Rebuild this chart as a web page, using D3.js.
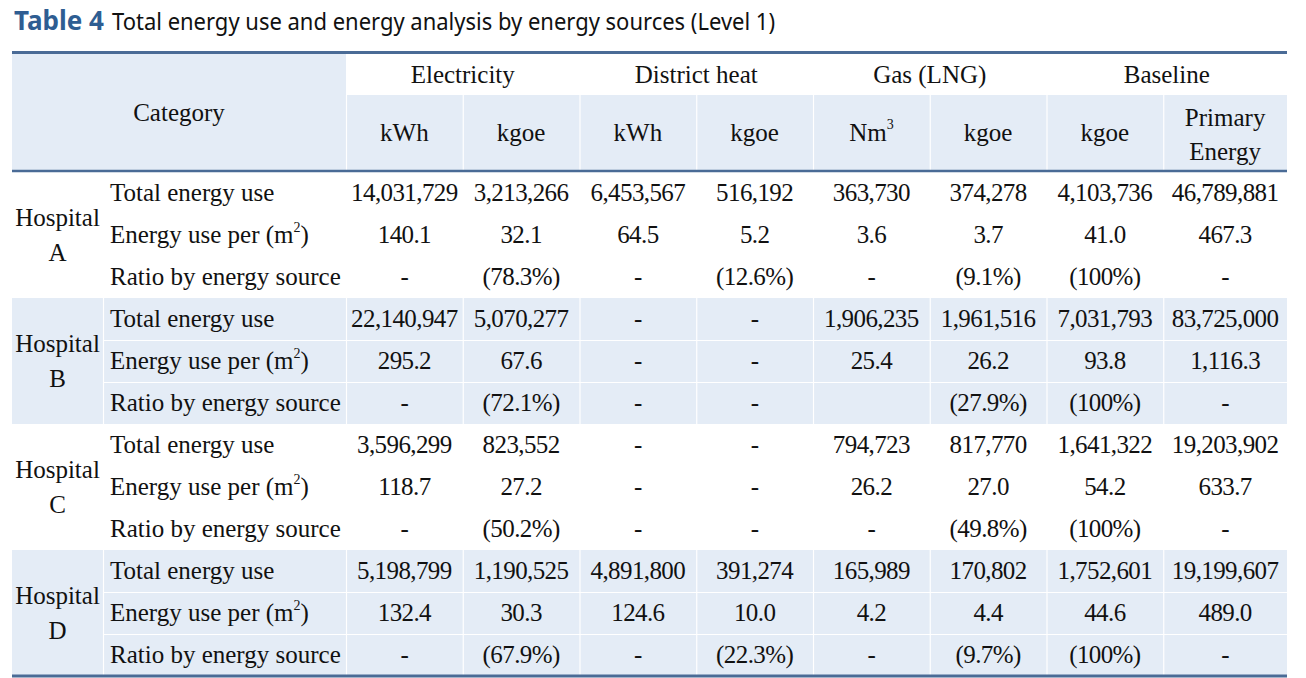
<!DOCTYPE html>
<html>
<head>
<meta charset="utf-8">
<script src="https://cdn.jsdelivr.net/npm/d3@7"></script>
<style>
  html, body { margin: 0; padding: 0; background: #fff; }
  svg { display: block; }
</style>
</head>
<body>
<svg id="chart" width="1306" height="678"></svg>
<script>
// ---------- DATA ----------
const titleLabel = "Table 4";
const titleText = "Total energy use and energy analysis by energy sources (Level 1)";
const categories = ["A", "B", "C", "D"];
const metrics = ["Total energy use", "Energy use per (m", "Ratio by energy source"];
const sources = ["Electricity", "District heat", "Gas (LNG)", "Baseline"];
const units = ["kWh", "kgoe", "kWh", "kgoe", "Nm", "kgoe", "kgoe", "Primary|Energy"];
const unitSup = ["", "", "", "", "3", "", "", ""];

// null -> "-", undefined -> blank
const totalA = [14031729, 3213266, 6453567, 516192, 363730, 374278, 4103736, 46789881];
const perA   = [140.1, 32.1, 64.5, 5.2, 3.6, 3.7, 41.0, 467.3];
const ratioA = [null, 78.3, null, 12.6, null, 9.1, 100, null];

const totalB = [22140947, 5070277, null, null, 1906235, 1961516, 7031793, 83725000];
const perB   = [295.2, 67.6, null, null, 25.4, 26.2, 93.8, 1116.3];
const ratioB = [null, 72.1, null, null, undefined, 27.9, 100, null];

const totalC = [3596299, 823552, null, null, 794723, 817770, 1641322, 19203902];
const perC   = [118.7, 27.2, null, null, 26.2, 27.0, 54.2, 633.7];
const ratioC = [null, 50.2, null, null, null, 49.8, 100, null];

const totalD = [5198799, 1190525, 4891800, 391274, 165989, 170802, 1752601, 19199607];
const perD   = [132.4, 30.3, 124.6, 10.0, 4.2, 4.4, 44.6, 489.0];
const ratioD = [null, 67.9, null, 22.3, null, 9.7, 100, null];

// ---------- LAYOUT ----------
const svg = d3.select("#chart");
const left = 12, right = 1287;
const hospX1 = 103, labelX1 = 346;
const topLine = 52.5, head1Bottom = 95, headBottom = 171, bottom = 676;
const shade = "#e4ecf6";
const lineColor = "#4a6b96";
const textColor = "#111";
const serif = "'Liberation Serif', 'Times New Roman', serif";
const FS = 25;

const groups = [
  {cat: categories[0], rows: [totalA, perA, ratioA]},
  {cat: categories[1], rows: [totalB, perB, ratioB]},
  {cat: categories[2], rows: [totalC, perC, ratioC]},
  {cat: categories[3], rows: [totalD, perD, ratioD]}
];

const fmtTotal = d3.format(",");
const fmtPer = d3.format(",.1f");
function fmt(v, rowIdx) {
  if (v === undefined) return "";
  if (v === null) return "-";
  if (rowIdx === 0) return fmtTotal(v);
  if (rowIdx === 1) return fmtPer(v);
  return "(" + v + "%)";
}

const colKeys = d3.range(units.length);
const lastCol = colKeys.length - 1;
const x = d3.scaleBand().domain(colKeys).range([labelX1, 1280]);
const colRight = k => (k === lastCol ? right : x(k) + x.bandwidth());
const colCenter = k => (x(k) + colRight(k)) / 2;
const rowKeys = d3.range(groups.length * metrics.length);
const y = d3.scaleBand().domain(rowKeys).range([headBottom + 1, bottom]);
const gy = d3.scaleBand().domain(categories).range([headBottom + 1, bottom]);

// ---------- TITLE ----------
svg.append("text")
  .attr("x", 14).attr("y", 29.5)
  .attr("font-family", "'Noto Sans', 'Open Sans', sans-serif")
  .attr("font-weight", "bold").attr("font-size", 27)
  .attr("fill", "#2e5d92")
  .attr("textLength", 90).attr("lengthAdjust", "spacingAndGlyphs")
  .text(titleLabel);
svg.append("text")
  .attr("x", 112).attr("y", 29.5)
  .attr("font-family", "'Noto Sans', 'Open Sans', sans-serif")
  .attr("font-size", 23)
  .attr("fill", "#111")
  .attr("textLength", 663).attr("lengthAdjust", "spacingAndGlyphs")
  .text(titleText);

// ---------- BACKGROUNDS ----------
svg.append("rect").attr("x", left).attr("y", topLine).attr("width", labelX1 - left)
  .attr("height", headBottom - topLine).attr("fill", shade);
svg.append("rect").attr("x", labelX1).attr("y", head1Bottom).attr("width", right - labelX1)
  .attr("height", headBottom - head1Bottom).attr("fill", shade);
svg.selectAll(".hsep").data(colKeys).join("line")
  .attr("x1", d => x(d) + 0.5).attr("x2", d => x(d) + 0.5)
  .attr("y1", head1Bottom).attr("y2", headBottom)
  .attr("stroke", "#fff").attr("stroke-width", 1.2);

groups.forEach((g, gi) => {
  if (gi % 2 === 0) return;
  const y0 = gy(g.cat), h = gy.bandwidth();
  svg.append("rect").attr("x", left).attr("y", y0).attr("width", right - left)
    .attr("height", h).attr("fill", shade);
  const xs = [hospX1].concat(colKeys.map(k => x(k)));
  svg.selectAll(null).data(xs).join("line")
    .attr("x1", d => d + 0.5).attr("x2", d => d + 0.5)
    .attr("y1", y0).attr("y2", y0 + h)
    .attr("stroke", "#fff").attr("stroke-width", 1.2);
  svg.selectAll(null).data([1, 2]).join("line")
    .attr("x1", hospX1).attr("x2", right)
    .attr("y1", r => y(gi * 3 + r) + 0.5).attr("y2", r => y(gi * 3 + r) + 0.5)
    .attr("stroke", "#fff").attr("stroke-width", 1.2);
});

// ---------- RULES ----------
svg.append("line").attr("x1", left).attr("x2", right).attr("y1", topLine).attr("y2", topLine)
  .attr("stroke", lineColor).attr("stroke-width", 3);
svg.append("line").attr("x1", left).attr("x2", right).attr("y1", headBottom).attr("y2", headBottom)
  .attr("stroke", lineColor).attr("stroke-width", 2.5);
svg.append("line").attr("x1", left).attr("x2", right).attr("y1", bottom).attr("y2", bottom)
  .attr("stroke", lineColor).attr("stroke-width", 3);

// ---------- HEADER TEXT ----------
const T = (sel) => sel.attr("font-family", serif).attr("font-size", FS).attr("fill", textColor);

T(svg.append("text")).attr("x", (left + labelX1) / 2).attr("y", 121)
  .attr("text-anchor", "middle").text("Category");

T(svg.selectAll(".src").data(sources).join("text"))
  .attr("x", (d, i) => (x(2 * i) + colRight(2 * i + 1)) / 2).attr("y", 83)
  .attr("text-anchor", "middle").text(d => d);

colKeys.forEach(k => {
  const parts = units[k].split("|");
  const cx = colCenter(k);
  if (parts.length === 1) {
    const t = T(svg.append("text")).attr("x", cx).attr("y", 141).attr("text-anchor", "middle");
    t.append("tspan").text(parts[0]);
    if (unitSup[k]) {
      t.append("tspan").attr("dy", -12).attr("font-size", 14).text(unitSup[k]);
    }
  } else {
    parts.forEach((p, i) => {
      T(svg.append("text")).attr("x", cx).attr("y", 126 + i * 34)
        .attr("text-anchor", "middle").text(p);
    });
  }
});

// ---------- BODY TEXT ----------
groups.forEach((g, gi) => {
  const cy = gy(g.cat) + gy.bandwidth() / 2;
  const hx = (left + hospX1) / 2;
  T(svg.append("text")).attr("x", hx).attr("y", cy - 9).attr("text-anchor", "middle").text("Hospital");
  T(svg.append("text")).attr("x", hx).attr("y", cy + 26).attr("text-anchor", "middle").text(g.cat);

  g.rows.forEach((vals, ri) => {
    const r = gi * 3 + ri;
    const by = y(r) + y.bandwidth() / 2 + 8;
    const lt = T(svg.append("text")).attr("x", 110).attr("y", by);
    lt.append("tspan").text(metrics[ri]);
    if (ri === 1) {
      lt.append("tspan").attr("dy", -11).attr("font-size", 14).text("2");
      lt.append("tspan").attr("dy", 11).text(")");
    }
    T(svg.selectAll(null).data(vals).join("text"))
      .attr("x", (d, i) => colCenter(i))
      .attr("y", by)
      .attr("text-anchor", "middle")
      .attr("letter-spacing", -0.6)
      .text(d => fmt(d, ri));
  });
});
</script>
</body>
</html>
